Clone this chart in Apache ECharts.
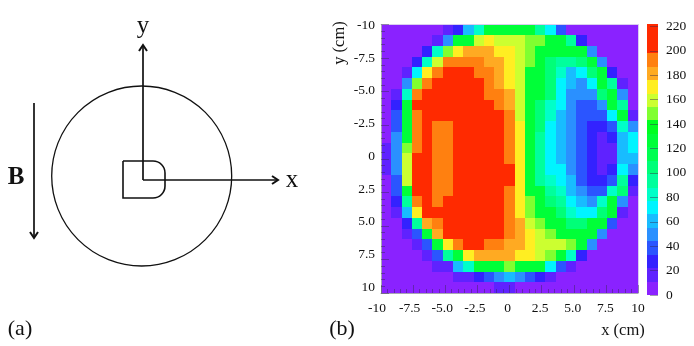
<!DOCTYPE html>
<html>
<head>
<meta charset="utf-8">
<style>html,body{margin:0;padding:0;background:#fff}#main{width:694px;height:346px}</style>
<script src="https://cdn.jsdelivr.net/npm/echarts@6/dist/echarts.min.js"></script>
</head>
<body>
<div id="main"></div>
<script>
// intensity per cell, row 0 is y = -10, column 0 is x = -10
var rows = [
[5,5,5,5,5,5,16,27,60,82,126,126,126,126,126,93,71,38,5,5,5,5,5,5,5],
[5,5,5,5,5,16,49,126,126,159,170,159,159,159,148,148,126,126,93,27,5,5,5,5,5],
[5,5,5,5,27,82,148,170,181,181,181,170,170,159,148,126,126,126,126,126,49,5,5,5,5],
[5,5,5,27,82,159,192,192,192,192,181,181,170,159,148,126,104,93,93,104,126,49,5,5,5],
[5,5,16,71,170,192,212,212,212,192,192,181,170,159,126,126,104,82,60,71,104,126,27,5,5],
[5,5,49,148,192,212,212,212,212,212,192,181,170,159,126,126,104,71,60,49,71,126,93,16,5],
[5,16,82,192,212,212,212,212,212,212,192,192,181,159,126,126,104,71,49,49,49,104,126,49,5],
[5,27,126,212,212,212,212,212,212,212,212,192,181,159,126,104,82,71,49,38,38,49,126,93,5],
[5,38,126,192,212,212,212,212,212,212,212,212,192,159,126,104,82,60,49,38,38,38,71,126,16],
[5,38,126,192,212,192,192,212,212,212,212,212,192,170,126,104,71,60,49,38,27,27,38,82,49],
[5,49,126,192,212,192,192,212,212,212,212,212,192,170,126,93,71,60,49,38,27,16,27,60,71],
[16,49,148,192,212,192,192,212,212,212,212,212,192,170,126,93,71,60,49,38,27,16,16,60,71],
[16,49,159,212,212,192,192,212,212,212,212,212,192,170,126,93,71,60,49,38,27,16,16,60,60],
[16,49,159,212,212,192,192,212,212,212,212,212,212,170,126,93,71,71,49,38,27,16,27,71,49],
[5,38,159,212,212,192,192,212,212,212,212,212,212,170,126,93,82,71,60,38,27,27,38,93,27],
[5,38,126,212,212,192,192,212,212,212,212,212,192,170,126,126,93,82,60,49,38,38,82,104,16],
[5,27,93,192,212,192,212,212,212,212,212,212,192,170,148,126,104,93,71,60,49,82,126,49,5],
[5,16,60,170,212,212,212,212,212,212,212,212,192,170,148,126,126,104,82,71,71,104,126,16,5],
[5,5,27,93,181,192,212,212,212,212,212,212,192,181,159,148,126,126,104,104,126,126,38,5,5],
[5,5,16,38,126,181,212,212,212,212,212,212,192,181,170,159,148,126,126,126,126,49,5,5,5],
[5,5,5,16,38,126,170,192,212,212,192,192,181,181,170,159,159,159,148,126,49,5,5,5,5],
[5,5,5,5,16,38,93,126,170,181,181,181,181,170,170,159,148,126,82,27,5,5,5,5,5],
[5,5,5,5,5,16,16,60,82,126,126,126,148,126,126,126,71,38,16,5,5,5,5,5,5],
[5,5,5,5,5,5,5,16,16,27,38,49,60,49,38,27,16,5,5,5,5,5,5,5,5],
[5,5,5,5,5,5,5,5,5,5,5,16,16,5,5,5,5,5,5,5,5,5,5,5,5]
];
var bandEdges = [0,11,22,33,44,55,66,77,88,99,110,121,132,143,154,165,176,187,198,209,222];
var bandColors = ['#8a22ff','#5f22ff','#3322ff','#2b55ff','#2a90ff','#18bcff','#00f4ff','#00ffc8','#00ff9c','#00ff78',
    '#00ff50','#00ff38','#00ff20','#80ff30','#ccff30','#ffee22','#ffaa22','#ff8010','#ff2a00','#ff2a00'];
var cmLabels = {'-10':'-10','-7.5':'-7.5','-5':'-5.0','-2.5':'-2.5','0':'0','2.5':'2.5','5':'5.0','7.5':'7.5','10':'10'};

var cells = [];
rows.forEach(function (row, r) {
    row.forEach(function (v, c) { cells.push([c, r, v]); });
});
var pieces = bandColors.map(function (color, i) {
    return { gte: bandEdges[i], lt: bandEdges[i + 1], color: color };
});
var bands = bandColors.map(function (color, i) {
    return [0, bandEdges[i], bandEdges[i + 1], color];
});
var columns = rows[0].map(function (v, i) { return i; });
var rowNames = rows.map(function (v, i) { return i; });

var serif = '"Liberation Serif", "Times New Roman", serif';
var black = '#111';
var tickColor = 'rgba(50,40,80,0.45)';
var frame = '#d8cdf0';

function line(points, width) {
    return {
        type: 'polyline',
        shape: { points: points },
        style: { stroke: black, lineWidth: width, fill: null, lineJoin: 'miter' }
    };
}
function label(text, x, y, size, weight, align) {
    return {
        type: 'text', x: x, y: y,
        style: {
            text: text, font: (weight || 'normal') + ' ' + size + 'px ' + serif, fill: black,
            textAlign: align || 'center', textVerticalAlign: 'middle'
        }
    };
}

// ticks and frame of the map, labels live on their own axes below
function tickAxis(extra) {
    return Object.assign({
        type: 'value', gridIndex: 0, min: -10, max: 10, interval: 2.5, z: 5,
        splitLine: { show: false },
        axisLine: { show: true, onZero: false, lineStyle: { color: '#a8a4b4', width: 1 } },
        axisTick: { show: true, inside: true, length: 8, lineStyle: { color: tickColor } },
        minorTick: { show: true, splitNumber: 5, length: 4, lineStyle: { color: tickColor } },
        axisLabel: { show: false }
    }, extra);
}
// the labels in the figure sit on a slightly tighter scale than the ticks
function labelAxis(extra, margin) {
    return Object.assign({
        type: 'value', gridIndex: 2, min: -10, max: 10, interval: 2.5,
        splitLine: { show: false },
        axisLine: { show: false, onZero: false }, axisTick: { show: false },
        axisLabel: {
            fontFamily: serif, fontSize: 13.5, color: black, margin: margin,
            showMinLabel: true, showMaxLabel: true, hideOverlap: false,
            formatter: function (v) { return cmLabels[String(v)]; }
        }
    }, extra);
}
function cellAxis(position, names) {
    return {
        type: 'category', gridIndex: 0, position: position, data: names, z: 5,
        axisLine: { show: true, onZero: false, lineStyle: { color: frame, width: 1 } },
        axisTick: { show: false }, axisLabel: { show: false }, splitLine: { show: false }
    };
}

var myChart = echarts.init(document.getElementById('main'), null, { renderer: 'canvas' });
var option = {
    animation: false,
    backgroundColor: '#fff',
    textStyle: { fontFamily: serif },
    grid: [
        { left: 381, top: 24.5, width: 257, height: 268.5 },
        { left: 647, top: 24, width: 11, height: 271 },
        { left: 377, top: 25.6, width: 261, height: 261.4 }
    ],
    xAxis: [
        cellAxis('top', columns),
        tickAxis({ position: 'bottom' }),
        {
            type: 'category', gridIndex: 1, data: ['bar'],
            axisLine: { show: false }, axisTick: { show: false }, axisLabel: { show: false }
        },
        labelAxis({ position: 'bottom' }, 14)
    ],
    yAxis: [
        Object.assign(cellAxis('right', rowNames), { inverse: true }),
        tickAxis({ position: 'left', inverse: true }),
        {
            type: 'value', gridIndex: 1, position: 'right', min: 0, max: 222, interval: 20, z: 5,
            splitLine: { show: false }, axisLine: { show: false, onZero: false },
            axisTick: { show: true, inside: true, length: 8, lineStyle: { color: tickColor } },
            axisLabel: { fontFamily: serif, fontSize: 13.5, color: black, margin: 8 }
        },
        labelAxis({ position: 'left', inverse: true }, 2)
    ],
    visualMap: {
        show: false, type: 'piecewise', seriesIndex: 0, dimension: 2, pieces: pieces
    },
    series: [
        {
            // cells snapped to whole pixels so no seams show between them
            type: 'custom', xAxisIndex: 0, yAxisIndex: 0, data: cells,
            encode: { x: 0, y: 1 },
            renderItem: function (params, api) {
                var p = api.coord([api.value(0), api.value(1)]);
                var size = api.size([1, 1]);
                var x0 = Math.round(p[0] - size[0] / 2);
                var x1 = Math.round(p[0] + size[0] / 2);
                var y0 = Math.round(p[1] - size[1] / 2);
                var y1 = Math.round(p[1] + size[1] / 2);
                return {
                    type: 'rect',
                    shape: { x: x0, y: y0, width: x1 - x0, height: y1 - y0 },
                    style: { fill: api.visual('color') }
                };
            }
        },
        {
            type: 'custom', xAxisIndex: 2, yAxisIndex: 2, data: bands,
            encode: { x: 0, y: [1, 2] },
            renderItem: function (params, api) {
                var low = api.coord([0, api.value(1)]);
                var high = api.coord([0, api.value(2)]);
                var size = api.size([1, 0]);
                return {
                    type: 'rect',
                    shape: { x: low[0] - size[0] / 2, y: Math.round(high[1]), width: size[0], height: Math.round(low[1]) - Math.round(high[1]) },
                    style: { fill: bandColors[params.dataIndex] }
                };
            }
        }
    ],
    graphic: [
        { type: 'circle', shape: { cx: 141.7, cy: 176, r: 90 }, style: { stroke: black, lineWidth: 1.3, fill: null } },
        { type: 'rect', shape: { x: 123, y: 161, width: 42, height: 37, r: [0, 12, 12, 0] }, style: { stroke: black, lineWidth: 1.6, fill: null } },
        line([[143, 180], [143, 46]], 1.7),
        line([[139, 51], [143, 45], [147, 51]], 2),
        line([[143, 180], [277, 180]], 1.7),
        line([[272, 176], [278, 180], [272, 184]], 2),
        line([[34, 103], [34, 237]], 1.7),
        line([[30, 232], [34, 238], [38, 232]], 2),
        label('y', 143, 26, 25),
        label('x', 292, 180, 25),
        label('B', 16, 178, 25, 'bold'),
        label('(a)', 20, 329, 22),
        label('(b)', 342, 329, 22),
        label('x (cm)', 623, 331, 16.5),
        {
            type: 'text', x: 340, y: 43, rotation: Math.PI / 2,
            style: { text: 'y (cm)', font: '16.5px ' + serif, fill: black, textAlign: 'center', textVerticalAlign: 'middle' }
        }
    ]
};
if (option && typeof option === "object") {
    myChart.setOption(option, true);
}
</script>
</body>
</html>
